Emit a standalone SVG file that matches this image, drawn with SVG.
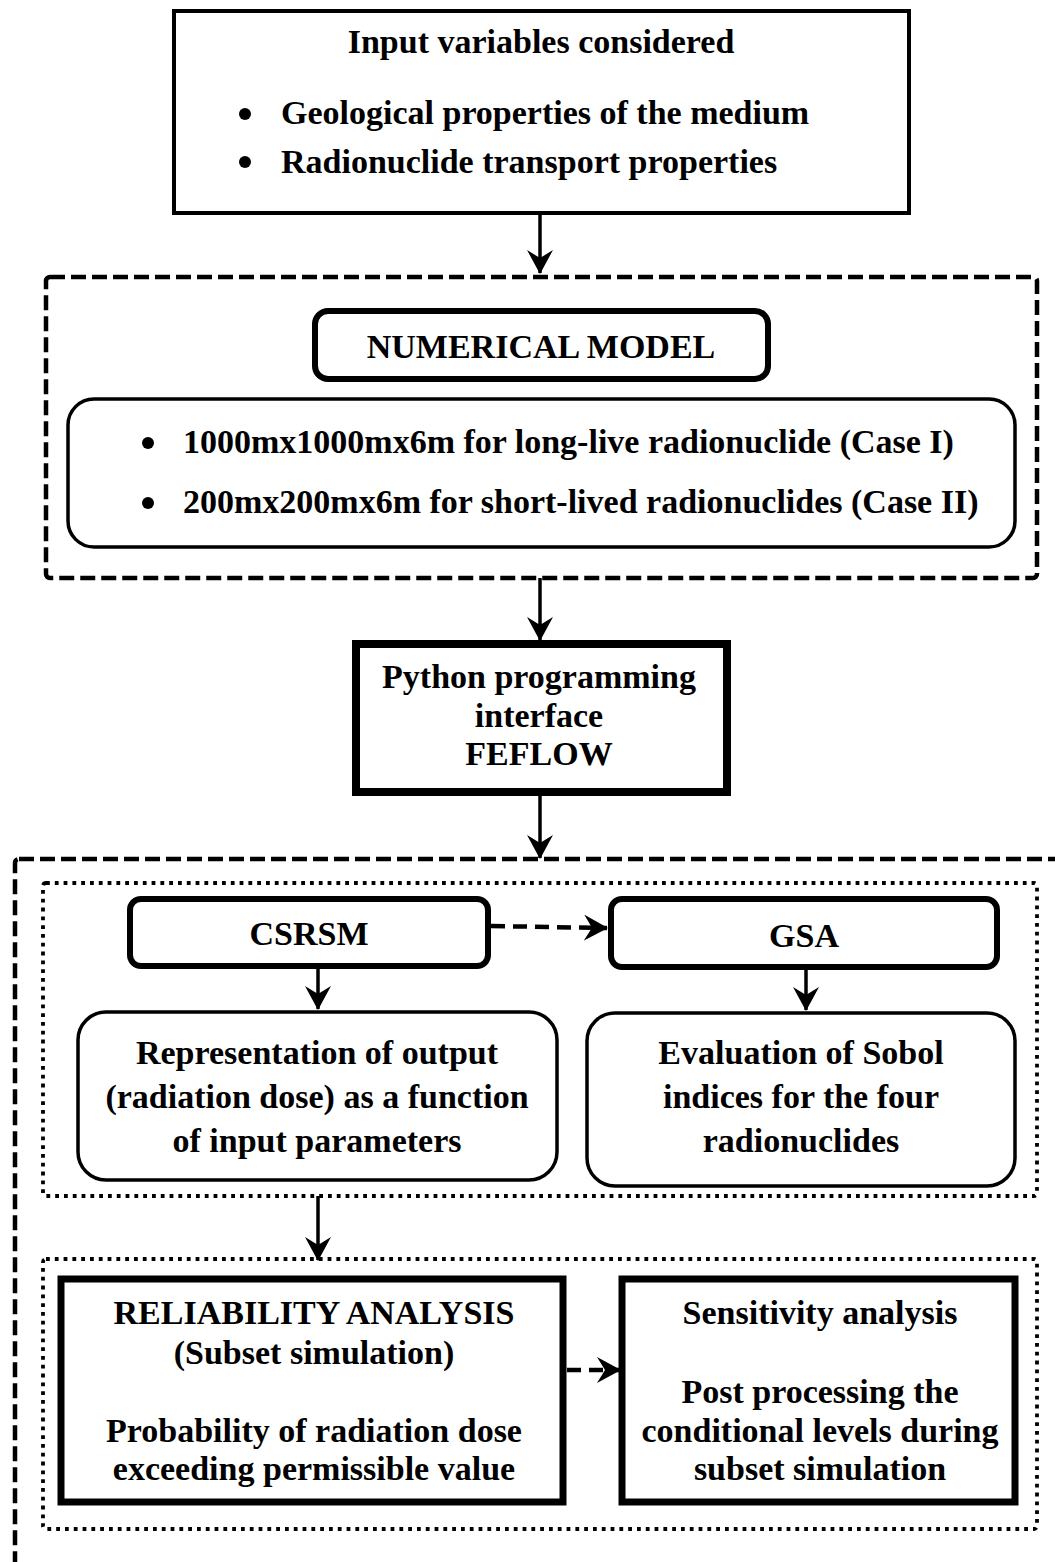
<svg xmlns="http://www.w3.org/2000/svg" width="1055" height="1562" viewBox="0 0 1055 1562">
  <style>
    text { font-family: "Liberation Serif", "Times New Roman", serif; font-weight: bold; font-size: 34px; fill: #000; }
    .c { text-anchor: middle; }
    .box { fill: #fff; stroke: #000; }
    .dash { fill: none; stroke: #000; stroke-width: 4.5; stroke-dasharray: 15 6; }
    .dot { fill: none; stroke: #000; stroke-width: 3.8; stroke-dasharray: 3.8 5; }
    .line { fill: none; stroke: #000; stroke-width: 3.5; }
    .dline { fill: none; stroke: #000; stroke-width: 4.5; stroke-dasharray: 14 8; }
  </style>
  <defs>
    <marker id="arrow" markerUnits="userSpaceOnUse" viewBox="0 0 24 26" refX="23" refY="13" markerWidth="24" markerHeight="26" orient="auto">
      <path d="M0,0 L24,13 L0,26 L8,13 z" fill="#000"/>
    </marker>
  </defs>

  <!-- grouping frames -->
  <g id="frames">
    <rect class="dash" x="46" y="277" width="991" height="301" rx="4"/>
    <rect class="dash" x="15" y="859" width="1100" height="760" rx="4"/>
    <rect class="dot" x="43" y="883" width="994" height="313" rx="3"/>
    <rect class="dot" x="43" y="1259" width="994" height="270" rx="3"/>
  </g>

  <g id="input-variables">
    <rect class="box" x="174" y="11" width="735" height="202" stroke-width="4"/>
    <text class="c" x="541" y="53">Input variables considered</text>
    <circle cx="245" cy="114" r="6"/>
    <text x="281" y="124">Geological properties of the medium</text>
    <circle cx="245" cy="162" r="6"/>
    <text x="281" y="173">Radionuclide transport properties</text>
  </g>

  <g id="numerical-model">
    <rect class="box" x="315" y="311" width="453" height="68" rx="13" stroke-width="6"/>
    <text class="c" x="541" y="358">NUMERICAL MODEL</text>
  </g>

  <g id="model-domains">
    <rect class="box" x="68" y="399" width="947" height="148" rx="26" stroke-width="3.5"/>
    <circle cx="148" cy="443" r="6"/>
    <text x="183" y="453">1000mx1000mx6m for long-live radionuclide (Case I)</text>
    <circle cx="148" cy="503" r="6"/>
    <text x="183" y="513">200mx200mx6m for short-lived radionuclides (Case II)</text>
  </g>

  <g id="feflow-interface">
    <rect class="box" x="356" y="644" width="371" height="148" stroke-width="8"/>
    <text class="c" x="539" y="688">Python programming</text>
    <text class="c" x="539" y="727">interface</text>
    <text class="c" x="539" y="765">FEFLOW</text>
  </g>

  <g id="csrsm">
    <rect class="box" x="130" y="899" width="358" height="67" rx="11" stroke-width="6"/>
    <text class="c" x="309" y="945">CSRSM</text>
  </g>

  <g id="gsa">
    <rect class="box" x="611" y="899" width="386" height="68" rx="11" stroke-width="6"/>
    <text class="c" x="804" y="947">GSA</text>
  </g>

  <g id="response-surface">
    <rect class="box" x="78" y="1012" width="479" height="168" rx="28" stroke-width="3.5"/>
    <text class="c" x="317" y="1064">Representation of output</text>
    <text class="c" x="317" y="1108">(radiation dose) as a function</text>
    <text class="c" x="317" y="1152">of input parameters</text>
  </g>

  <g id="sobol-indices">
    <rect class="box" x="587" y="1013" width="428" height="173" rx="28" stroke-width="3.5"/>
    <text class="c" x="801" y="1064">Evaluation of Sobol</text>
    <text class="c" x="801" y="1108">indices for the four</text>
    <text class="c" x="801" y="1152">radionuclides</text>
  </g>

  <g id="reliability-analysis">
    <rect class="box" x="61" y="1279" width="502" height="223" stroke-width="7"/>
    <text class="c" x="314" y="1324">RELIABILITY ANALYSIS</text>
    <text class="c" x="314" y="1364">(Subset simulation)</text>
    <text class="c" x="314" y="1442">Probability of radiation dose</text>
    <text class="c" x="314" y="1480">exceeding permissible value</text>
  </g>

  <g id="sensitivity-analysis">
    <rect class="box" x="622" y="1279" width="393" height="223" stroke-width="7"/>
    <text class="c" x="820" y="1324">Sensitivity analysis</text>
    <text class="c" x="820" y="1403">Post processing the</text>
    <text class="c" x="820" y="1442">conditional levels during</text>
    <text class="c" x="820" y="1480">subset simulation</text>
  </g>

  <g id="connectors">
    <line class="line" x1="540" y1="213" x2="540" y2="273" marker-end="url(#arrow)"/>
    <line class="line" x1="540" y1="578" x2="540" y2="640" marker-end="url(#arrow)"/>
    <line class="line" x1="540" y1="796" x2="540" y2="858" marker-end="url(#arrow)"/>
    <line class="dline" x1="491" y1="926" x2="607" y2="928" marker-end="url(#arrow)"/>
    <line class="line" x1="318" y1="969" x2="318" y2="1009" marker-end="url(#arrow)"/>
    <line class="line" x1="806" y1="970" x2="806" y2="1010" marker-end="url(#arrow)"/>
    <line class="line" x1="318" y1="1196" x2="318" y2="1260" marker-end="url(#arrow)"/>
    <line class="dline" x1="567" y1="1370" x2="620" y2="1370" marker-end="url(#arrow)"/>
  </g>
</svg>
